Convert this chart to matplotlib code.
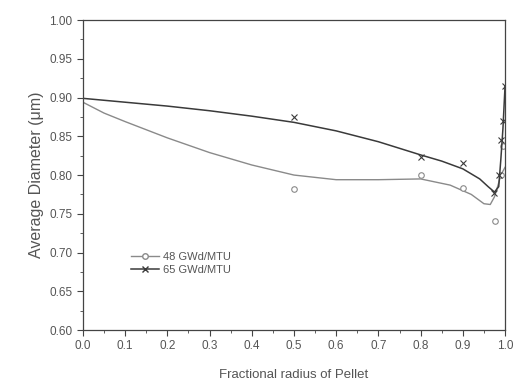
import numpy as np
import matplotlib
matplotlib.use("Agg")
import matplotlib.pyplot as plt
from matplotlib.ticker import MultipleLocator, FormatStrFormatter

# 48 GWd/MTU : measured points and fitted curve
x48_pts = [0.5, 0.8, 0.9, 0.976, 0.99, 0.995]
y48_pts = [0.782, 0.800, 0.783, 0.741, 0.800, 0.838]
x48_fit = [0.0, 0.05, 0.1, 0.2, 0.3, 0.4, 0.5, 0.6, 0.7, 0.8, 0.87, 0.92, 0.95,
           0.965, 0.975, 0.985, 0.99, 1.0]
y48_fit = [0.894, 0.880, 0.869, 0.848, 0.829, 0.813, 0.800, 0.794, 0.794, 0.795,
           0.787, 0.775, 0.763, 0.762, 0.772, 0.790, 0.800, 0.810]

# 65 GWd/MTU
x65_pts = [0.5, 0.8, 0.9, 0.975, 0.985, 0.99, 0.995, 1.0]
y65_pts = [0.875, 0.823, 0.815, 0.777, 0.800, 0.845, 0.870, 0.915]
x65_fit = [0.0, 0.1, 0.2, 0.3, 0.4, 0.5, 0.6, 0.7, 0.8, 0.85, 0.9, 0.94, 0.96,
           0.975, 0.985, 0.99, 0.995, 1.0]
y65_fit = [0.899, 0.894, 0.889, 0.883, 0.876, 0.868, 0.857, 0.843, 0.826, 0.818,
           0.808, 0.795, 0.785, 0.778, 0.785, 0.820, 0.860, 0.915]

c48 = "#8a8a8a"
c65 = "#3a3a3a"
txt = "#555555"

plt.rcParams['font.family'] = ['Liberation Sans', 'DejaVu Sans']

fig = plt.figure(figsize=(5.18, 3.86), dpi=100)
ax = fig.add_axes([0.160, 0.145, 0.815, 0.803])

ax.plot(x48_fit, y48_fit, color=c48, lw=1.0)
ax.plot(x48_pts, y48_pts, ls="none", marker="o", ms=4, mfc="white", mec=c48, mew=0.8)
ax.plot(x65_fit, y65_fit, color=c65, lw=1.1)
ax.plot(x65_pts, y65_pts, ls="none", marker="x", ms=4, color=c65, mew=0.8)

# legend proxies
ax.plot([], [], color=c48, lw=1.0, marker="o", ms=4, mfc="white", mec=c48, label="48 GWd/MTU")
ax.plot([], [], color=c65, lw=1.1, marker="x", ms=4, label="65 GWd/MTU")
h, l = ax.get_legend_handles_labels()
leg = ax.legend(h, l, loc="center left", bbox_to_anchor=(0.09, 0.215), frameon=False,
                fontsize=8, handlelength=2.5, labelspacing=0.3, handletextpad=0.4)
for t in leg.get_texts():
    t.set_color(txt)

ax.set_xlim(0.0, 1.0)
ax.set_ylim(0.60, 1.00)
ax.xaxis.set_major_locator(MultipleLocator(0.1))
ax.xaxis.set_minor_locator(MultipleLocator(0.05))
ax.yaxis.set_major_locator(MultipleLocator(0.05))
ax.yaxis.set_minor_locator(MultipleLocator(0.025))
ax.xaxis.set_major_formatter(FormatStrFormatter("%.1f"))
ax.yaxis.set_major_formatter(FormatStrFormatter("%.2f"))
ax.tick_params(which="both", direction="out", colors="#444444", labelcolor=txt, labelsize=8.5)
ax.tick_params(which="major", length=4)
ax.tick_params(which="minor", length=2.5)
for s in ax.spines.values():
    s.set_color("#444444")
    s.set_linewidth(0.9)

ax.set_xlabel("Fractional radius of Pellet", color=txt, fontsize=9.5, labelpad=12)
ax.set_ylabel("Average Diameter (\u03bcm)", color=txt, fontsize=11.5, labelpad=4)

fig.savefig("out.png", dpi=100)
